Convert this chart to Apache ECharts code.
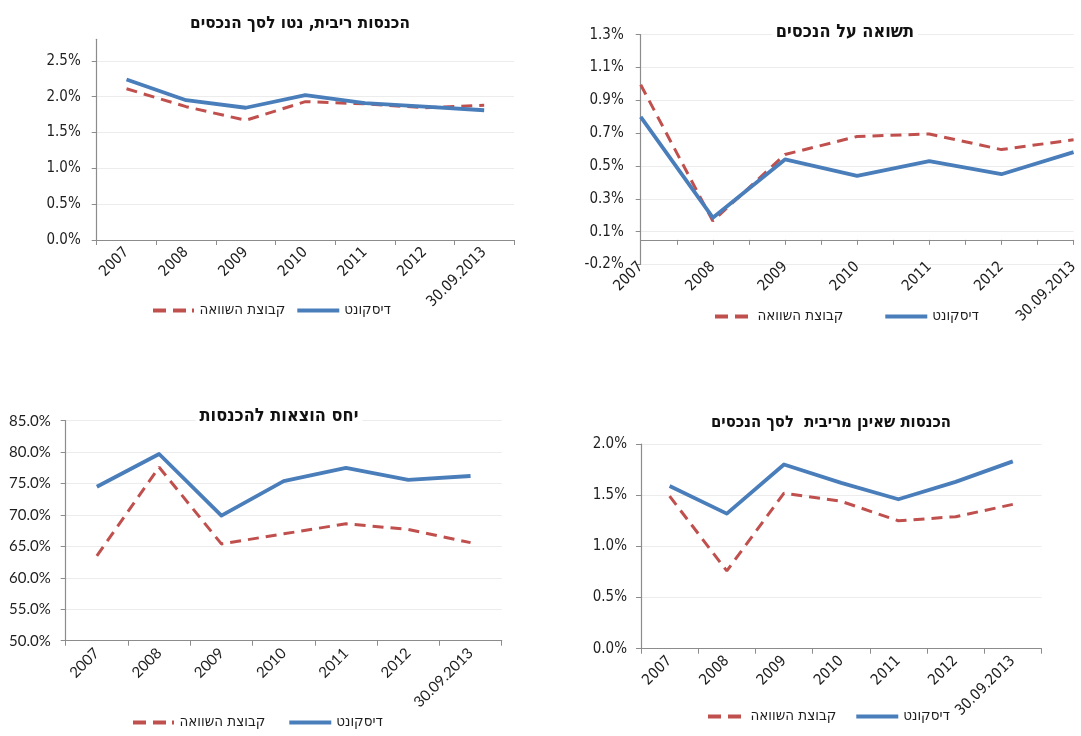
<!DOCTYPE html>
<html>
<head>
<meta charset="utf-8">
<script src="https://cdn.jsdelivr.net/npm/echarts@6/dist/echarts.min.js"></script>
<style>
  html, body { margin: 0; padding: 0; background: #fff; }
  #chart { width: 1081px; height: 736px; }
</style>
</head>
<body>
<div id="chart"></div>
<script>
// categories shared by all four panels
const categories = ['2007', '2008', '2009', '2010', '2011', '2012', '30.09.2013'];
const seriesNames = ['קבוצת השוואה', 'דיסקונט'];

// panel 1 - net interest income to total assets (%)
const niiDiscount = [2.24, 1.95, 1.845, 2.02, 1.91, 1.86, 1.81];
const niiPeers = [2.11, 1.86, 1.67, 1.93, 1.90, 1.845, 1.88];
const niiTicks = ['0.0%', '0.5%', '1.0%', '1.5%', '2.0%', '2.5%'];

// panel 2 - return on assets (%)
const roaDiscount = [0.75, 0.135, 0.49, 0.39, 0.48, 0.40, 0.535];
const roaPeers = [0.945, 0.115, 0.52, 0.63, 0.645, 0.55, 0.61];
const roaTicks = ['-0.2%', '0.1%', '0.3%', '0.5%', '0.7%', '0.9%', '1.1%', '1.3%'];

// panel 3 - cost to income ratio (%)
const effDiscount = [74.5, 79.7, 69.9, 75.4, 77.5, 75.6, 76.2];
const effPeers = [63.5, 77.6, 65.4, 67.0, 68.6, 67.7, 65.6];
const effTicks = ['50.0%', '55.0%', '60.0%', '65.0%', '70.0%', '75.0%', '80.0%', '85.0%'];

// panel 4 - non interest income to total assets (%)
const nonIntDiscount = [1.59, 1.32, 1.80, 1.62, 1.46, 1.63, 1.83];
const nonIntPeers = [1.49, 0.76, 1.52, 1.44, 1.25, 1.29, 1.41];
const nonIntTicks = ['0.0%', '0.5%', '1.0%', '1.5%', '2.0%'];

const titles = [
  'הכנסות ריבית, נטו לסך הנכסים',
  'תשואה על הנכסים',
  'יחס הוצאות להכנסות',
  'הכנסות שאינן מריבית  לסך הנכסים'
];

const BLUE = '#4a7ebb';
const RED = '#c0504d';
const AXIS = '#8c8c8c';
const GRID_LINE = '#ececec';
const TEXT = '#1e1e1e';
const NARROW = '"Liberation Sans Narrow", "DejaVu Sans Condensed", sans-serif';
const WIDE = 'Lato, "Open Sans", sans-serif';
const HEB = '"DejaVu Sans Condensed", "DejaVu Sans", sans-serif';

// legend icons: dashed bar for the peer group, solid bar for Discount
const DASH_ICON = 'path://M0,0h13v4h-13zM20,0h13v4h-13zM39,0h2v4h-2z';
const DASH_ICON_SHORT = 'path://M0,0h13v4h-13zM20,0h13v4h-13z';
const SOLID_ICON = 'path://M0,0h44v4h-44z';

const myChart = echarts.init(document.getElementById('chart'));

function tickFormatter(labels, min, step) {
  return function (v) {
    const idx = (v - min) / step;
    if (Math.abs(idx - Math.round(idx)) > 1e-6) return '';
    return labels[Math.round(idx)] || '';
  };
}

function catAxis(gridIndex, font, size) {
  return {
    type: 'category',
    gridIndex: gridIndex,
    data: categories,
    boundaryGap: true,
    axisLine: { lineStyle: { color: AXIS, width: 1.2 } },
    axisTick: { show: true, length: 5, lineStyle: { color: AXIS } },
    axisLabel: { rotate: 45, margin: 10, color: TEXT, fontFamily: font, fontSize: size, interval: 0 },
    splitLine: { show: false }
  };
}

function valAxis(gridIndex, min, max, step, labels, font, size, margin) {
  return {
    type: 'value',
    gridIndex: gridIndex,
    min: min,
    max: max,
    interval: step,
    axisLine: { show: true, lineStyle: { color: AXIS, width: 1.2 } },
    axisTick: { show: true, length: 5, lineStyle: { color: AXIS } },
    axisLabel: {
      color: TEXT, fontFamily: font, fontSize: size, margin: margin,
      formatter: tickFormatter(labels, min, step)
    },
    splitLine: { show: true, lineStyle: { color: GRID_LINE, width: 1.2 } }
  };
}

function lines(idx, peers, discount, asPairs) {
  const toData = arr => asPairs ? arr.map((v, i) => [i, v]) : arr;
  return [
    {
      name: seriesNames[0], type: 'line', xAxisIndex: idx, yAxisIndex: idx,
      data: toData(peers), symbol: 'none', z: 2,
      lineStyle: { color: RED, width: 3, type: [11, 7], cap: 'butt' },
      itemStyle: { color: RED }
    },
    {
      name: seriesNames[1], type: 'line', xAxisIndex: idx, yAxisIndex: idx,
      data: toData(discount), symbol: 'none', z: 3,
      lineStyle: { color: BLUE, width: 3.8, join: 'round' },
      itemStyle: { color: BLUE }
    }
  ];
}

function legend(left, top, gap, dashIcon) {
  return {
    data: [
      { name: seriesNames[0], icon: dashIcon },
      { name: seriesNames[1], icon: SOLID_ICON }
    ],
    left: left, top: top, itemGap: gap,
    itemWidth: 42, itemHeight: 4,
    textStyle: { color: TEXT, fontFamily: HEB, fontSize: 15 },
    selectedMode: false
  };
}

function title(text, x, y, size) {
  return {
    type: 'text', x: x, y: y, z: 100,
    style: {
      text: text, align: 'center', verticalAlign: 'middle', fill: '#111',
      font: 'bold ' + size + 'px ' + HEB, backgroundColor: '#fff', padding: [2, 4]
    }
  };
}

// panel 2 uses a value x axis so that ticks fall on and between the dates
const roaXAxis = {
  type: 'value', gridIndex: 1, min: 0, max: 6, interval: 0.5,
  axisLine: { onZero: true, lineStyle: { color: AXIS, width: 1.2 } },
  axisTick: { show: true, length: 5, lineStyle: { color: AXIS } },
  axisLabel: {
    rotate: 45, margin: 0, color: TEXT, fontFamily: NARROW, fontSize: 15,
    showMinLabel: true, showMaxLabel: true,
    formatter: v => (Math.abs(v - Math.round(v)) < 1e-6 ? categories[Math.round(v)] : '')
  },
  splitLine: { show: false }
};

const option = {
  animation: false,
  textStyle: { fontFamily: NARROW },
  grid: [
    { left: 96.7, top: 39.3, width: 417.3, height: 200.7 },
    { left: 640.7, top: 34.7, width: 437, height: 229.8 },
    { left: 65.7, top: 420.7, width: 436, height: 220 },
    { left: 641, top: 444, width: 400.4, height: 204.7 }
  ],
  xAxis: [
    catAxis(0, NARROW, 15),
    roaXAxis,
    catAxis(2, WIDE, 15),
    catAxis(3, NARROW, 15)
  ],
  yAxis: [
    valAxis(0, 0, 2.8, 0.5, niiTicks, NARROW, 15, 16),
    valAxis(1, -0.15, 1.25, 0.2, roaTicks, NARROW, 15, 17),
    valAxis(2, 50, 85, 5, effTicks, WIDE, 15, 15),
    valAxis(3, 0, 2, 0.5, nonIntTicks, NARROW, 15, 14)
  ],
  legend: [
    legend(148, 298, 12, DASH_ICON),
    legend(710, 304, 42, DASH_ICON_SHORT),
    legend(128, 710, 24, DASH_ICON),
    legend(703, 704, 20, DASH_ICON_SHORT)
  ],
  graphic: [
    title(titles[0], 300, 24, 17),
    title(titles[1], 845, 32, 18),
    title(titles[2], 279, 416, 18),
    title(titles[3], 831, 423, 16.5)
  ],
  series: [].concat(
    lines(0, niiPeers, niiDiscount, false),
    lines(1, roaPeers, roaDiscount, true),
    lines(2, effPeers, effDiscount, false),
    lines(3, nonIntPeers, nonIntDiscount, false)
  )
};

// panel 1 axis runs past the last label without a gridline there
option.yAxis[0].axisLabel.showMaxLabel = false;
option.yAxis[0].splitLine.showMaxLine = false;

myChart.setOption(option);
</script>
</body>
</html>
